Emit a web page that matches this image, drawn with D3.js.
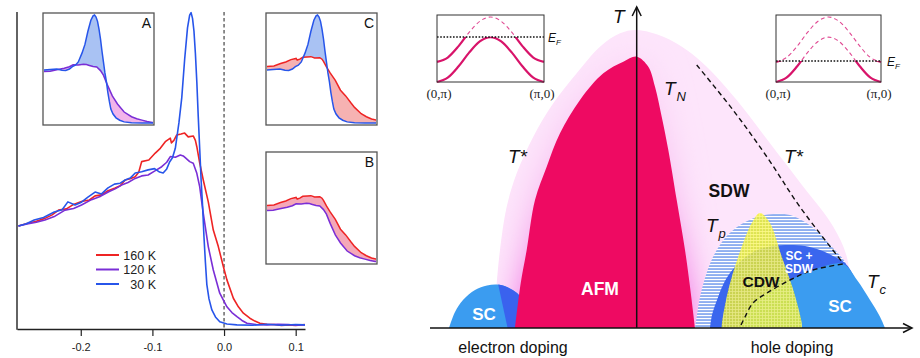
<!DOCTYPE html>
<html><head><meta charset="utf-8">
<script src="https://cdn.jsdelivr.net/npm/d3@7"></script>
<style>
body{margin:0;background:#fff}
svg{display:block}
text{font-family:"Liberation Sans",Arial,Helvetica,sans-serif}
text.serif{font-family:"Liberation Serif","DejaVu Serif",serif}
</style>
</head><body>
<svg id="c" width="920" height="358"></svg>
<script>
// ================= DATA: left panel (EDCs, energy [eV] vs intensity [a.u.]) =================
const energyTicks = [-0.2, -0.1, 0.0, 0.1];
const legendLabels = ["160 K", "120 K", "30 K"];
const insetLabels = ["A", "B", "C"];

const edc30 = [[-0.287,32.5],[-0.276,33.2],[-0.265,34.4],[-0.252,35.2],[-0.237,36.9],[-0.226,37.6],[-0.218,40.1],[-0.208,39.1],
 [-0.199,40.0],[-0.19,41.6],[-0.18,43.2],[-0.171,42.6],[-0.162,44.5],[-0.153,45.7],[-0.145,46.0],[-0.138,47.0],[-0.131,47.6],
 [-0.124,49.2],[-0.115,49.6],[-0.106,50.2],[-0.097,50.6],[-0.09,49.5],[-0.085,49.2],[-0.08,50.5],[-0.076,52.7],[-0.072,54.0],
 [-0.068,57],[-0.063,65],[-0.059,73],[-0.055,85],[-0.051,95],[-0.048,99],[-0.046,99.8],[-0.044,98],[-0.042,94],[-0.04,87],
 [-0.038,78],[-0.036,67],[-0.034,57],[-0.032,47],[-0.03,39],[-0.028,29],[-0.026,21],[-0.024,14],[-0.021,9.5],[-0.017,6.0],
 [-0.012,3.8],[-0.006,2.3],[0.004,1.6],[0.018,1.3],[0.04,1.2],[0.06,1.5],[0.08,1.2],[0.1,1.4],[0.113,1.3]];

const edc160 = [[-0.287,32.5],[-0.275,33.3],[-0.262,34.0],[-0.25,34.9],[-0.24,36.0],[-0.231,37.5],[-0.22,37.9],[-0.21,39.3],
 [-0.199,40.2],[-0.188,40.7],[-0.18,42.0],[-0.171,42.3],[-0.162,43.6],[-0.152,44.5],[-0.145,45.2],[-0.138,47.0],[-0.131,47.4],
 [-0.124,48.0],[-0.119,49.5],[-0.115,52.8],[-0.105,53.3],[-0.096,55.5],[-0.089,57.0],[-0.082,59.1],[-0.075,60.2],[-0.0735,58.7],
 [-0.07,59.5],[-0.066,61.2],[-0.06,61.5],[-0.055,61.8],[-0.05,60.6],[-0.043,60.9],[-0.04,59.5],[-0.038,57.5],[-0.034,52.4],
 [-0.029,47.0],[-0.022,40.1],[-0.015,31.2],[-0.008,26.0],[-0.001,19.7],[0.004,15.5],[0.013,9.7],[0.02,7.0],[0.027,5.0],
 [0.036,3.4],[0.043,2.5],[0.05,1.8],[0.06,1.5],[0.07,1.4],[0.08,1.1],[0.09,1.3],[0.1,1.1],[0.113,1.4]];

const edc120 = [[-0.287,32.5],[-0.275,33.1],[-0.262,33.7],[-0.25,34.4],[-0.236,35.6],[-0.222,37.5],[-0.21,38.0],[-0.199,39.1],
 [-0.185,40.8],[-0.172,41.9],[-0.161,43.3],[-0.152,44.2],[-0.143,45.4],[-0.134,46.2],[-0.124,47.5],[-0.115,48.3],[-0.106,48.6],
 [-0.097,49.8],[-0.087,51.2],[-0.08,52.6],[-0.075,54.4],[-0.068,54.2],[-0.061,54.9],[-0.057,54.6],[-0.053,53.8],[-0.048,52.8],
 [-0.043,52.3],[-0.038,49.1],[-0.034,44.9],[-0.029,36.5],[-0.022,26.0],[-0.015,18.6],[-0.006,11.3],[0.004,7.0],[0.011,5.2],
 [0.018,3.9],[0.025,2.7],[0.032,1.8],[0.045,1.4],[0.06,1.3],[0.075,1.5],[0.09,1.4],[0.1,1.2],[0.113,1.3]];

// ================= DATA: right panel (phase diagram, doping vs temperature, schematic units) =================
const pseudogapLeft = [[-1.434,0],[-1.40,0.447],[-1.367,0.78],[-1.30,1.213],[-1.20,1.547],[-1.034,1.913],[-0.834,2.247],
 [-0.60,2.547],[-0.367,2.813],[-0.167,2.947],[0,2.98]];
const pseudogapRight = [[0.266,2.913],[0.50,2.78],[0.70,2.613],[1.00,2.28],[1.333,1.847],[1.666,1.413],[1.966,1.013],
 [2.113,0.66],[2.113,0]];
const afmDome = [[-1.217,0],[-1.16,0.447],[-1.10,0.78],[-1.017,1.28],[-0.90,1.613],[-0.767,1.947],[-0.567,2.28],[-0.334,2.547],
 [-0.134,2.663],[0,2.713],[0.116,2.613],[0.183,2.413],[0.25,2.113],[0.316,1.78],[0.40,1.28],[0.483,0.78],[0.533,0.413],[0.583,0]];
const scElectronDome = [[-1.877,0],[-1.817,0.16],[-1.737,0.28],[-1.617,0.38],[-1.497,0.425],[-1.397,0.435],[-1.297,0.41],
 [-1.197,0.35],[-1.117,0.25],[-1.047,0.12],[-1.007,0]];
const scElectronSplit = [[-1.397,0.44],[-1.287,0]];
const sdwDome = [[0.583,0],[0.603,0.13],[0.633,0.31],[0.693,0.53],[0.763,0.71],[0.883,0.90],[1.033,1.03],[1.203,1.11],
 [1.363,1.14],[1.533,1.13],[1.683,1.06],[1.813,0.96],[1.963,0.80],[2.083,0.66],[2.153,0.48],[2.183,0]];
const scSdwDome = [[0.733,0],[0.753,0.13],[0.803,0.28],[0.863,0.43],[0.933,0.55],[1.053,0.68],[1.203,0.78],[1.363,0.82],
 [1.533,0.83],[1.683,0.82],[1.833,0.78],[1.963,0.72],[2.083,0.65],[2.183,0.48],[2.233,0]];
const tcLine = [[1.013,0],[1.043,0.03],[1.083,0.11],[1.163,0.25],[1.303,0.35],[1.533,0.48],[1.763,0.58],[2.063,0.64]];
const scHoleRight = [[2.203,0.48],[2.333,0.28],[2.433,0.113],[2.483,0]];
const cdwDome = [[0.85,0],[0.853,0.05],[0.916,0.38],[1.016,0.713],[1.15,1.047],[1.233,1.15],[1.333,1.047],[1.45,0.713],
 [1.566,0.38],[1.65,0.05],[1.653,0]];
const tStarLine = [[0.60,2.63],[0.963,2.18],[1.303,1.71],[1.633,1.21],[2.063,0.65]];

// band-structure insets (k from (0,pi) to (pi,0), energy in schematic units)
const bandK = [0,0.1,0.2,0.3,0.4,0.5,0.6,0.7,0.8,0.9,1];
const bandLower = [0,0.066,0.238,0.452,0.624,0.69,0.624,0.452,0.238,0.066,0];
const bandUpper = [0.31,0.376,0.548,0.762,0.934,1.0,0.934,0.762,0.548,0.376,0.31];
const fermiLevels = [0.692, 0.323];     // electron doped, hole doped
const kLabels = ["(0,\u03c0)", "(\u03c0,0)"];

// ================= DRAWING =================
const svg = d3.select("#c");
const defs = svg.append("defs");
const RED = "#ee2424", PURPLE = "#7a2ed6", BLUE = "#2755ea";

// ---------- left panel ----------
const xL = d3.scaleLinear().domain([-0.289, 0.113]).range([17, 305]);
const yL = d3.scaleLinear().domain([0, 100]).range([329, 12]);
const left = svg.append("g");

left.append("line").attr("x1", xL(0)).attr("x2", xL(0)).attr("y1", yL(100)).attr("y2", yL(0))
  .attr("stroke", "#333").attr("stroke-width", 1.1).attr("stroke-dasharray", "3.5,2.5");

const mainLine = d3.line().x(d => xL(d[0])).y(d => yL(d[1]));
[[edc160, RED], [edc120, PURPLE], [edc30, BLUE]].forEach(([d, c]) => {
  left.append("path").attr("d", mainLine(d)).attr("fill", "none").attr("stroke", c)
    .attr("stroke-width", 1.6).attr("stroke-linejoin", "round");
});

const xAxis = d3.axisBottom(xL).tickValues(energyTicks).tickFormat(d => d.toFixed(1))
  .tickSize(7).tickSizeOuter(0).tickPadding(7);
const gx = left.append("g").attr("transform", `translate(0,${yL(0)})`).call(xAxis);
gx.select(".domain").attr("stroke", "#222").attr("stroke-width", 1.4);
gx.selectAll(".tick line").attr("stroke", "#222").attr("stroke-width", 1.2);
gx.selectAll("text").attr("font-size", 11).attr("fill", "#222");
left.append("line").attr("x1", xL.range()[0]).attr("x2", xL.range()[0]).attr("y1", yL(100)).attr("y2", yL(0) + 0.7)
  .attr("stroke", "#222").attr("stroke-width", 1.4);

// legend
[[RED, legendLabels[0]], [PURPLE, legendLabels[1]], [BLUE, legendLabels[2]]].forEach(([c, t], i) => {
  const y = 255 + i * 14.5;
  left.append("line").attr("x1", 96).attr("x2", 119).attr("y1", y).attr("y2", y).attr("stroke", c).attr("stroke-width", 2);
  left.append("text").attr("x", 156).attr("y", y + 4.5).attr("text-anchor", "end")
    .attr("font-size", 12.5).attr("fill", "#222").text(t);
});

// insets
function inset(id, ox, oy, curveA, colA, curveB, colB, fillAB, fillBA, label) {
  const bx = 43 + ox, by = 13 + oy, bw = 111, bh = 112;
  const xs = d3.scaleLinear().domain([-0.113, 0.033]).range([45 + ox, 153 + ox]);
  const ys = d3.scaleLinear().domain([0, 100]).range([124.4 + oy, 14.8 + oy]);
  const g = svg.append("g");
  g.append("rect").attr("x", bx).attr("y", by).attr("width", bw).attr("height", bh).attr("fill", "#fff");
  defs.append("clipPath").attr("id", id + "box").append("rect")
    .attr("x", bx + 1).attr("y", by + 1).attr("width", bw - 2).attr("height", bh - 2);
  const above = d3.area().x(d => xs(d[0])).y0(by - 10).y1(d => ys(d[1]));
  const below = d3.area().x(d => xs(d[0])).y0(by + bh + 10).y1(d => ys(d[1]));
  defs.append("clipPath").attr("id", id + "abA").append("path").attr("d", above(curveA));
  defs.append("clipPath").attr("id", id + "abB").append("path").attr("d", above(curveB));
  const inner = g.append("g").attr("clip-path", `url(#${id}box)`);
  inner.append("g").attr("clip-path", `url(#${id}abB)`).append("path").attr("d", below(curveA)).attr("fill", fillAB);
  inner.append("g").attr("clip-path", `url(#${id}abA)`).append("path").attr("d", below(curveB)).attr("fill", fillBA);
  const ln = d3.line().x(d => xs(d[0])).y(d => ys(d[1]));
  inner.append("path").attr("d", ln(curveB)).attr("fill", "none").attr("stroke", colB).attr("stroke-width", 1.5);
  inner.append("path").attr("d", ln(curveA)).attr("fill", "none").attr("stroke", colA).attr("stroke-width", 1.5);
  g.append("rect").attr("x", bx).attr("y", by).attr("width", bw).attr("height", bh)
    .attr("fill", "none").attr("stroke", "#555").attr("stroke-width", 1.3);
  g.append("text").attr("x", bx + bw - 3).attr("y", by + 15).attr("text-anchor", "end")
    .attr("font-size", 14).attr("fill", "#111").text(label);
}
inset("iA", 0, 0, edc30, BLUE, edc120, PURPLE, "#a9c2f3", "#f2b4ea", insetLabels[0]);
inset("iC", 223, 0, edc30, BLUE, edc160, RED, "#a9c2f3", "#f6b2b2", insetLabels[2]);
inset("iB", 223, 139, edc160, RED, edc120, PURPLE, "#f5a8b8", "#f5a8b8", insetLabels[1]);

// ---------- right panel ----------
const xR = d3.scaleLinear().domain([-2.067, 2.733]).range([430, 910]);
const yR = d3.scaleLinear().domain([0, 3.2]).range([328, 8]);
const dome = d3.line().x(d => xR(d[0])).y(d => yR(d[1])).curve(d3.curveCatmullRom.alpha(0.5));
const closed = pts => dome(pts) + "Z";
const right = svg.append("g");

// gradients, patterns, filters
const glowGrad = defs.append("linearGradient").attr("id", "glowGrad").attr("x1", 0).attr("x2", 0).attr("y1", 0).attr("y2", 1);
glowGrad.append("stop").attr("offset", "0%").attr("stop-color", "#fbdaf7");
glowGrad.append("stop").attr("offset", "55%").attr("stop-color", "#f6b6ee");
glowGrad.append("stop").attr("offset", "100%").attr("stop-color", "#ee5ade");
const blur = defs.append("filter").attr("id", "blur").attr("x", "-60%").attr("y", "-60%").attr("width", "220%").attr("height", "220%");
blur.append("feGaussianBlur").attr("stdDeviation", 16);

const hatch = defs.append("pattern").attr("id", "hatch").attr("patternUnits", "userSpaceOnUse").attr("width", 8).attr("height", 3);
hatch.append("rect").attr("width", 8).attr("height", 3).attr("fill", "#8eaef0");
hatch.append("rect").attr("width", 8).attr("height", 1.1).attr("fill", "#ffffff");

const grid = defs.append("pattern").attr("id", "grid").attr("patternUnits", "userSpaceOnUse").attr("width", 3).attr("height", 3);
grid.append("path").attr("d", "M0,0.5H3M0.5,0V3").attr("stroke", "#fffbb0").attr("stroke-width", 0.8).attr("opacity", 0.55);

// pseudogap (T*) region
const pgPath = closed(pseudogapLeft.concat(pseudogapRight));
defs.append("clipPath").attr("id", "pgClip").append("path").attr("d", pgPath);
right.append("path").attr("d", pgPath).attr("fill", "#fde5fb");
right.append("g").attr("clip-path", "url(#pgClip)").append("path").attr("d", closed(afmDome))
  .attr("fill", "url(#glowGrad)").attr("filter", "url(#blur)");

// electron-doped SC dome
right.append("path").attr("d", closed(scElectronDome)).attr("fill", "#3b9cf0");
const splitPoly = [[xR(scElectronSplit[0][0]), yR(scElectronSplit[0][1]) - 5], [xR(scElectronSplit[1][0]), yR(0) + 2],
  [xR(-0.9), yR(0) + 2], [xR(-0.9), yR(0.6)], [xR(scElectronSplit[0][0]), yR(0.6)]];
defs.append("clipPath").attr("id", "splitClip").append("polygon").attr("points", splitPoly.map(p => p.join(",")).join(" "));
right.append("g").attr("clip-path", "url(#splitClip)").append("path").attr("d", closed(scElectronDome)).attr("fill", "#3a62ee");

// AFM
right.append("path").attr("d", closed(afmDome)).attr("fill", "#ee0a62");

// hole-doped side
right.append("path").attr("d", closed(sdwDome)).attr("fill", "url(#hatch)");
right.append("path").attr("d", closed(scSdwDome)).attr("fill", "#3a66ee");
right.append("path").attr("d", closed(tcLine.concat(scHoleRight))).attr("fill", "#3b9cf0");
right.append("path").attr("d", closed(cdwDome)).attr("fill", "#f3f226").attr("opacity", 0.78);
right.append("path").attr("d", closed(cdwDome)).attr("fill", "url(#grid)");

// dashed lines
const smooth = d3.line().x(d => xR(d[0])).y(d => yR(d[1])).curve(d3.curveCatmullRom.alpha(0.5));
right.append("path").attr("d", smooth(tcLine.slice(1))).attr("fill", "none").attr("stroke", "#111")
  .attr("stroke-width", 1.4).attr("stroke-dasharray", "5,3.5");
right.append("path").attr("d", smooth(tStarLine)).attr("fill", "none").attr("stroke", "#111")
  .attr("stroke-width", 1.4).attr("stroke-dasharray", "5,3.5");

// axes with arrows
const x0 = xR(0), yB = yR(0);
right.append("line").attr("x1", xR.range()[0]).attr("x2", xR.range()[1] + 1).attr("y1", yB).attr("y2", yB)
  .attr("stroke", "#111").attr("stroke-width", 1.5);
right.append("path").attr("d", `M${xR.range()[1] - 7},${yB - 4.5}L${xR.range()[1] + 2},${yB}L${xR.range()[1] - 7},${yB + 4.5}`)
  .attr("fill", "none").attr("stroke", "#111").attr("stroke-width", 1.5);
right.append("line").attr("x1", x0).attr("x2", x0).attr("y1", yB).attr("y2", yR(3.2) - 1)
  .attr("stroke", "#111").attr("stroke-width", 1.5);
right.append("path").attr("d", `M${x0 - 4.5},${yR(3.2) + 8}L${x0},${yR(3.2) - 1}L${x0 + 4.5},${yR(3.2) + 8}`)
  .attr("fill", "none").attr("stroke", "#111").attr("stroke-width", 1.5);

// labels
function itext(x, y, main, sub, size, subSize) {
  const t = right.append("text").attr("x", x).attr("y", y).attr("font-size", size).attr("font-style", "italic").attr("fill", "#111");
  t.append("tspan").text(main);
  if (sub) t.append("tspan").attr("font-size", subSize).attr("dy", size * 0.3).attr("dx", 1).text(sub);
}
itext(613, 23, "T", null, 19);
itext(664, 95, "T", "N", 19, 13);
itext(508, 163, "T*", null, 19);
itext(784, 163, "T*", null, 19);
itext(706, 232, "T", "p", 19, 13);
itext(867, 288, "T", "c", 19, 13);
function btext(x, y, s, size, col) {
  right.append("text").attr("x", x).attr("y", y).attr("text-anchor", "middle").attr("font-size", size)
    .attr("font-weight", "bold").attr("fill", col).text(s);
}
btext(729, 197, "SDW", 17.5, "#111");
btext(600, 295, "AFM", 17.5, "#fff");
btext(484, 320, "SC", 17, "#fff");
btext(761, 287, "CDW", 15.5, "#111");
btext(799, 260, "SC +", 12, "#fff");
btext(799, 273, "SDW", 12, "#fff");
btext(840, 312, "SC", 17, "#fff");
right.append("text").attr("x", 513).attr("y", 353).attr("text-anchor", "middle").attr("font-size", 16).attr("fill", "#111").text("electron doping");
right.append("text").attr("x", 792).attr("y", 353).attr("text-anchor", "middle").attr("font-size", 16).attr("fill", "#111").text("hole doping");

// band insets
function bandInset(id, bx0, bx1, ef, efx) {
  const xs = d3.scaleLinear().domain([0, 1]).range([bx0, bx1]);
  const ys = d3.scaleLinear().domain([0, 1]).range([82, 17]);
  const g = svg.append("g");
  const efy = ys(ef);
  defs.append("clipPath").attr("id", id + "lo").append("rect").attr("x", bx0 - 2).attr("y", efy).attr("width", bx1 - bx0 + 4).attr("height", 10 + 82 - efy);
  defs.append("clipPath").attr("id", id + "hi").append("rect").attr("x", bx0 - 2).attr("y", 5).attr("width", bx1 - bx0 + 4).attr("height", efy - 5);
  const ln = d3.line().x((d, i) => xs(bandK[i])).y(d => ys(d)).curve(d3.curveMonotoneX);
  [bandLower, bandUpper].forEach(b => {
    g.append("g").attr("clip-path", `url(#${id}hi)`).append("path").attr("d", ln(b)).attr("fill", "none")
      .attr("stroke", "#e04a93").attr("stroke-width", 1.1).attr("stroke-dasharray", "4,3");
    g.append("g").attr("clip-path", `url(#${id}lo)`).append("path").attr("d", ln(b)).attr("fill", "none")
      .attr("stroke", "#d8146a").attr("stroke-width", 2.2);
  });
  g.append("line").attr("x1", bx0).attr("x2", bx1).attr("y1", efy).attr("y2", efy)
    .attr("stroke", "#111").attr("stroke-width", 1.6).attr("stroke-dasharray", "1.6,1.6");
  g.append("rect").attr("x", bx0).attr("y", 15).attr("width", bx1 - bx0).attr("height", 67)
    .attr("fill", "none").attr("stroke", "#333").attr("stroke-width", 1);
  const t = g.append("text").attr("x", efx).attr("y", efy + 5).attr("font-size", 12).attr("font-style", "italic").attr("fill", "#111");
  t.append("tspan").text("E");
  t.append("tspan").attr("font-size", 8).attr("dy", 3).text("F");
  [0, 1].forEach(i => {
    g.append("text").attr("class", "serif").attr("x", xs(i) + (i ? -2 : 2)).attr("y", 98).attr("text-anchor", "middle")
      .attr("font-size", 13).attr("fill", "#222").text(kLabels[i]);
  });
}
bandInset("bl", 437, 544, fermiLevels[0], 548);
bandInset("br", 776, 881, fermiLevels[1], 887);
</script>
</body></html>
